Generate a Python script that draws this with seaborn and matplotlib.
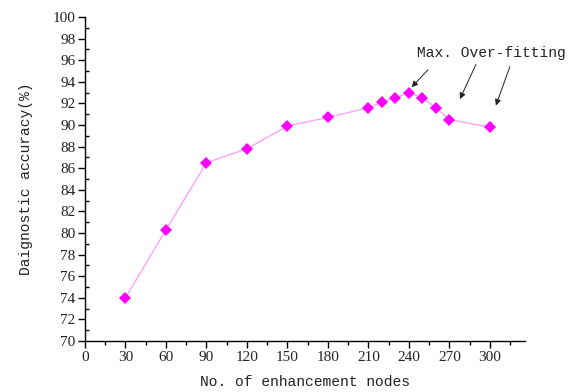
import matplotlib
matplotlib.use("Agg")
import matplotlib.pyplot as plt
import seaborn as sns
import pandas as pd
from matplotlib.ticker import MultipleLocator

nodes = [30, 60, 90, 120, 150, 180, 210, 220, 230, 240, 250, 260, 270, 300]
accuracy = [74.0, 80.3, 86.5, 87.8, 89.9, 90.7, 91.6, 92.1, 92.5, 93.0, 92.5, 91.6, 90.5, 89.8]
x_ticks = [0, 30, 60, 90, 120, 150, 180, 210, 240, 270, 300]
y_ticks = list(range(70, 101, 2))

sns.set_theme(style="white")
plt.rcParams['font.family'] = ['Liberation Serif', 'DejaVu Serif']

df = pd.DataFrame({"nodes": nodes, "acc": accuracy})

fig = plt.figure(figsize=(5.76, 3.92), dpi=100)
ax = fig.add_axes([85/576, 1-341/392, 440/576, 324/392])

sns.lineplot(data=df, x="nodes", y="acc", ax=ax, color="#ff99ff", linewidth=0.9,
             marker="D", markersize=6.3, markerfacecolor="#ff00ff",
             markeredgecolor="#ff00ff", markeredgewidth=0)

ax.set_xlim(0, 326)
ax.set_ylim(70, 100)
ax.set_xticks(x_ticks)
ax.set_yticks(y_ticks)
ax.xaxis.set_minor_locator(MultipleLocator(15))
ax.yaxis.set_minor_locator(MultipleLocator(1))
for s in ["top", "right"]:
    ax.spines[s].set_visible(False)
for s in ["left", "bottom"]:
    ax.spines[s].set_color("black")
    ax.spines[s].set_linewidth(1.0)
ax.tick_params(axis="both", which="major", direction="out", length=5, width=1,
               color="black", labelsize=11, labelcolor="#222222", pad=2,
               left=True, bottom=True)
ax.tick_params(axis="x", which="minor", direction="out", length=3, width=1, color="black", bottom=True)
ax.tick_params(axis="y", which="minor", direction="in", length=3, width=1, color="black", left=True)
ax.grid(False)

mono = ['Liberation Mono', 'DejaVu Sans Mono']
ax.set_xlabel("No. of enhancement nodes", family=mono, fontsize=10.5, color="#222222", labelpad=8)
ax.set_ylabel("Daignostic accuracy(%)", family=mono, fontsize=10.5, color="#222222", labelpad=14)

ax.text(246, 96.7, "Max. Over-fitting", family=mono, fontsize=10.5, color="#222222",
        ha="left", va="center")
arrows = [((254, 95.1), (242, 93.5)), ((289.6, 95.6), (277.8, 92.4)), ((314.8, 95.4), (304.4, 91.8))]
for start, end in arrows:
    ax.annotate("", xy=end, xytext=start,
                arrowprops=dict(arrowstyle="-|>", color="#222222", lw=0.7,
                                mutation_scale=9, shrinkA=0, shrinkB=0))

fig.savefig("out.png", dpi=100)
